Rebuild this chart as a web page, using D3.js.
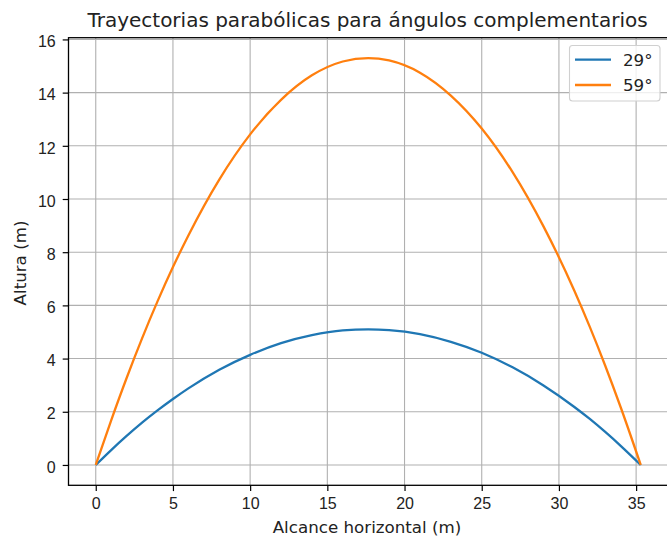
<!DOCTYPE html>
<html lang="es">
<head>
<meta charset="UTF-8">
<title>Trayectorias parabólicas</title>
<script src="https://d3js.org/d3.v7.min.js"></script>
<style>
    body { margin: 0; background: #fff; }
    svg { display: block; font-family: "DejaVu Sans", sans-serif; }
    .grid line { stroke: #b0b0b0; stroke-width: 1.1px; }
    .tick text { font-size: 16px; fill: #222; }
    .tick line { stroke: #000; stroke-width: 1.2px; }
</style>
</head>
<body>
<script>
    // values
    const alcance = [0, 1, 2, 3, 4, 5, 6, 8, 10, 12, 14, 16, 17.65, 19, 21, 23, 25, 27, 29, 31, 32, 33, 34, 35.3];
    const altura29 = [0, 0.56, 1.09, 1.59, 2.05, 2.48, 2.88, 3.58, 4.14, 4.58, 4.88, 5.06, 5.10, 5.07, 4.92, 4.63, 4.22, 3.67, 2.99, 2.18, 1.73, 1.24, 0.72, 0];
    const altura59 = [0, 1.68, 3.27, 4.76, 6.15, 7.44, 8.63, 10.73, 12.43, 13.73, 14.65, 15.17, 15.30, 15.21, 14.75, 13.89, 12.65, 11.01, 8.97, 6.55, 5.19, 3.73, 2.17, 0];
    const series = [
        { name: "29°", values: altura29, color: "#1f77b4" },
        { name: "59°", values: altura59, color: "#ff7f0e" }
    ];
    const xTicks = [0, 5, 10, 15, 20, 25, 30, 35];
    const yTicks = [0, 2, 4, 6, 8, 10, 12, 14, 16];

    const W = 667, H = 537;
    const mLeft = 68.5, mRight = 668, mTop = 37.7, mBottom = 485.3;

    const svg = d3.select("body").append("svg")
        .attr("width", W).attr("height", H);

    // matplotlib style 5% margins
    const xMax = d3.max(alcance), yMax = d3.max(altura59);
    const x = d3.scaleLinear().domain([-0.05 * xMax, xMax * 1.05]).range([mLeft, mRight]);
    const y = d3.scaleLinear().domain([-0.05 * yMax, yMax * 1.05]).range([mBottom, mTop]);

    // grid
    const grid = svg.append("g").attr("class", "grid");
    grid.selectAll(".gx").data(xTicks).enter().append("line")
        .attr("x1", d => x(d)).attr("x2", d => x(d))
        .attr("y1", mTop).attr("y2", mBottom);
    grid.selectAll(".gy").data(yTicks).enter().append("line")
        .attr("y1", d => y(d)).attr("y2", d => y(d))
        .attr("x1", mLeft).attr("x2", mRight);

    // lines
    const line = d3.line()
        .x((d, i) => x(alcance[i]))
        .y(d => y(d))
        .curve(d3.curveMonotoneX);

    svg.selectAll(".serie").data(series).enter().append("path")
        .attr("fill", "none")
        .attr("stroke", d => d.color)
        .attr("stroke-width", 2.3)
        .attr("d", d => line(d.values));

    // axes
    const xAxis = svg.append("g")
        .attr("transform", "translate(0," + mBottom + ")")
        .call(d3.axisBottom(x).tickValues(xTicks).tickSize(5.8).tickPadding(7));
    const yAxis = svg.append("g")
        .attr("transform", "translate(" + mLeft + ",0)")
        .call(d3.axisLeft(y).tickValues(yTicks).tickSize(5.8).tickPadding(7));
    [xAxis, yAxis].forEach(a => a.select(".domain").remove());
    yAxis.selectAll(".tick text").attr("dy", "0.45em");

    // spines
    svg.append("rect")
        .attr("x", mLeft).attr("y", mTop)
        .attr("width", mRight - mLeft).attr("height", mBottom - mTop)
        .attr("fill", "none").attr("stroke", "#000").attr("stroke-width", 1.3);

    // title and labels
    svg.append("text")
        .attr("x", 367.5).attr("y", 27)
        .attr("text-anchor", "middle").attr("font-size", 20).attr("fill", "#222")
        .text("Trayectorias parabólicas para ángulos complementarios");

    svg.append("text")
        .attr("x", 367).attr("y", 533)
        .attr("text-anchor", "middle").attr("font-size", 16.7).attr("fill", "#222")
        .text("Alcance horizontal (m)");

    svg.append("text")
        .attr("transform", "translate(25.5,263) rotate(-90)")
        .attr("text-anchor", "middle").attr("font-size", 16.7).attr("fill", "#222")
        .text("Altura (m)");

    // legend
    const lg = svg.append("g");
    lg.append("rect")
        .attr("x", 569.5).attr("y", 45.5).attr("width", 90.5).attr("height", 55.5)
        .attr("rx", 3).attr("fill", "#fff").attr("fill-opacity", 0.8)
        .attr("stroke", "#d0d0d0").attr("stroke-width", 1.1);
    series.forEach((s, i) => {
        const ly = 59.7 + i * 25.3;
        lg.append("line")
            .attr("x1", 575).attr("x2", 611)
            .attr("y1", ly).attr("y2", ly)
            .attr("stroke", s.color).attr("stroke-width", 2.3);
        lg.append("text")
            .attr("x", 623).attr("y", ly + 6.2)
            .attr("font-size", 16.7).attr("fill", "#222")
            .text(s.name);
    });
</script>
</body>
</html>
